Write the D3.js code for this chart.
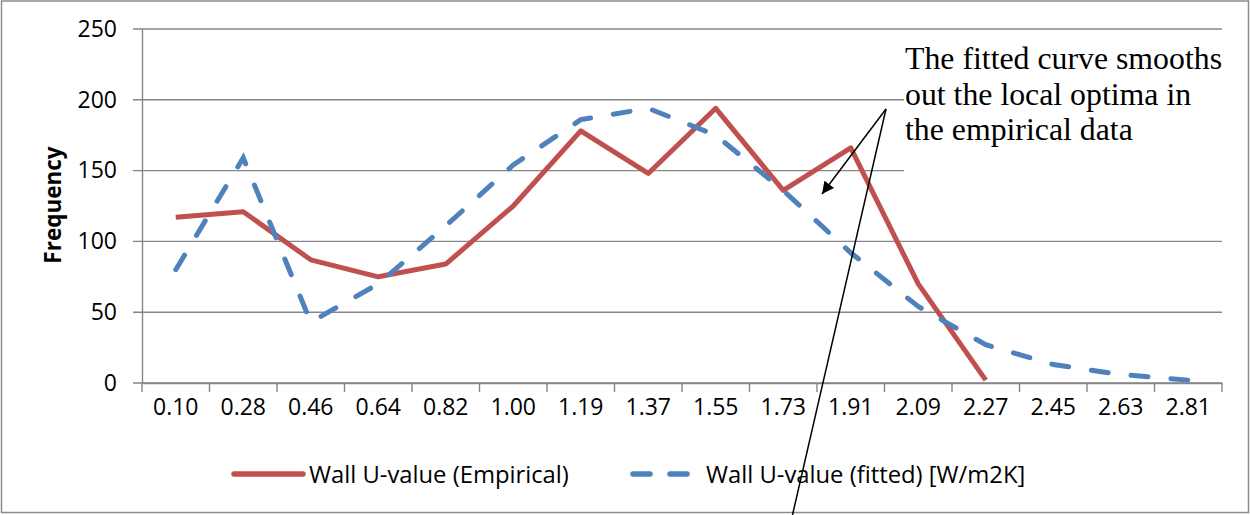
<!DOCTYPE html>
<html>
<head>
<meta charset="utf-8">
<title>Wall U-value</title>
<style>
body { margin: 0; background: #fff; }
.tick text { font-family: "Open Sans", sans-serif; font-size: 23px; fill: #000; }
.legend text { font-family: "Open Sans", sans-serif; font-size: 23.8px; fill: #000; }
.note { font-family: "Liberation Serif", "Times New Roman", serif; font-size: 31.8px; fill: #000; }
</style>
</head>
<body>
<script src="https://d3js.org/d3.v7.min.js"></script>
<script>
var categories = ["0.10","0.28","0.46","0.64","0.82","1.00","1.19","1.37","1.55","1.73","1.91","2.09","2.27","2.45","2.63","2.81"];
var empirical = [117,121,87,75,84,125,178,148,194,136,166,70,2,null,null,null];
var fitted = [80,159,43,70,111,154,186,194,175,136,92,54,27,13,6,2];
var yTicks = [0,50,100,150,200,250];
var seriesNames = ["Wall U-value (Empirical)", "Wall U-value (fitted) [W/m2K]"];
var noteLines = ["The fitted curve smooths", "out the local optima in", "the empirical data"];

var width = 1250, height = 515;
var red = "#C0504D", blue = "#4F81BD", grid = "#868686";

var svg = d3.select("body").append("svg")
	.attr("width", width)
	.attr("height", height);

// chart frame
svg.append("rect")
	.attr("x", 1.5).attr("y", 1).attr("width", 1247).attr("height", 511.5)
	.attr("fill", "#fff").attr("stroke", "#8c8c8c").attr("stroke-width", 1.5);

var x = d3.scaleBand().domain(categories).range([142, 1222]);
var y = d3.scaleLinear().domain([0, 250]).range([383, 29]);

// horizontal gridlines
svg.selectAll("line.grid")
	.data(yTicks)
	.enter()
	.append("line")
	.attr("class", "grid")
	.attr("x1", 133).attr("x2", 1222)
	.attr("y1", function(d){ return y(d); })
	.attr("y2", function(d){ return y(d); })
	.attr("stroke", grid).attr("stroke-width", 1.4);

// y axis
var axisY = d3.axisLeft(y).tickValues(yTicks).tickSize(0).tickPadding(25);
var gy = svg.append("g").attr("transform", "translate(142,0)").call(axisY);
gy.select(".domain").attr("stroke", grid).attr("stroke-width", 1.4);

// x axis, ticks between categories
var gx = svg.append("g").attr("transform", "translate(0,383)")
	.call(d3.axisBottom(x).tickSize(0).tickPadding(29));
gx.select(".domain").attr("stroke", grid).attr("stroke-width", 1.4);
gx.selectAll(".tick text").attr("dy", "0.15em");
var bounds = categories.map(function(c){ return x(c); }).concat([x.range()[1]]);
svg.selectAll("line.xtick")
	.data(bounds)
	.enter()
	.append("line")
	.attr("class", "xtick")
	.attr("x1", function(d){ return d; })
	.attr("x2", function(d){ return d; })
	.attr("y1", 383).attr("y2", 392)
	.attr("stroke", grid).attr("stroke-width", 1.4);

svg.append("text")
	.attr("transform", "translate(61,205) rotate(-90)")
	.attr("text-anchor", "middle")
	.attr("font-family", "'Open Sans', sans-serif")
	.attr("font-weight", "bold")
	.attr("font-size", 22.5)
	.text("Frequency");

var line = d3.line()
	.defined(function(d){ return d != null; })
	.x(function(d, i){ return x(categories[i]) + x.bandwidth() / 2; })
	.y(function(d){ return y(d); });

svg.append("path")
	.datum(empirical)
	.attr("d", line)
	.attr("fill", "none")
	.attr("stroke", red)
	.attr("stroke-width", 5)
	.attr("stroke-linejoin", "round");

svg.append("path")
	.datum(fitted)
	.attr("d", line)
	.attr("fill", "none")
	.attr("stroke", blue)
	.attr("stroke-width", 5)
	.attr("stroke-linecap", "round")
	.attr("stroke-dasharray", "17,23");

// legend
var legend = svg.append("g").attr("class", "legend");
legend.append("line")
	.attr("x1", 234).attr("x2", 303).attr("y1", 474).attr("y2", 474)
	.attr("stroke", red).attr("stroke-width", 5.5).attr("stroke-linecap", "round");
legend.append("text").attr("x", 309).attr("y", 482.5).text(seriesNames[0]);
legend.append("line")
	.attr("x1", 633).attr("x2", 694).attr("y1", 474).attr("y2", 474)
	.attr("stroke", blue).attr("stroke-width", 5.5).attr("stroke-linecap", "round")
	.attr("stroke-dasharray", "17,20");
legend.append("text").attr("x", 706).attr("y", 482.5).text(seriesNames[1]);

// annotation
svg.append("rect")
	.attr("x", 904).attr("y", 38).attr("width", 321).attr("height", 160)
	.attr("fill", "#fff");
svg.selectAll("text.note")
	.data(noteLines)
	.enter()
	.append("text")
	.attr("class", "note")
	.attr("x", 905)
	.attr("y", function(d, i){ return 69 + i * 35.5; })
	.text(function(d){ return d; });

svg.append("defs").append("marker")
	.attr("id", "head")
	.attr("viewBox", "0 0 10 10")
	.attr("refX", 10).attr("refY", 5)
	.attr("markerWidth", 10).attr("markerHeight", 8)
	.attr("markerUnits", "strokeWidth")
	.attr("orient", "auto")
	.append("path")
	.attr("d", "M0,0 L10,5 L0,10 Z")
	.attr("fill", "#000");

svg.append("line")
	.attr("x1", 886).attr("y1", 109).attr("x2", 822).attr("y2", 194)
	.attr("stroke", "#000").attr("stroke-width", 1.5)
	.attr("marker-end", "url(#head)");
svg.append("line")
	.attr("x1", 886).attr("y1", 109).attr("x2", 792.5).attr("y2", 515)
	.attr("stroke", "#000").attr("stroke-width", 1.5);
</script>
</body>
</html>
